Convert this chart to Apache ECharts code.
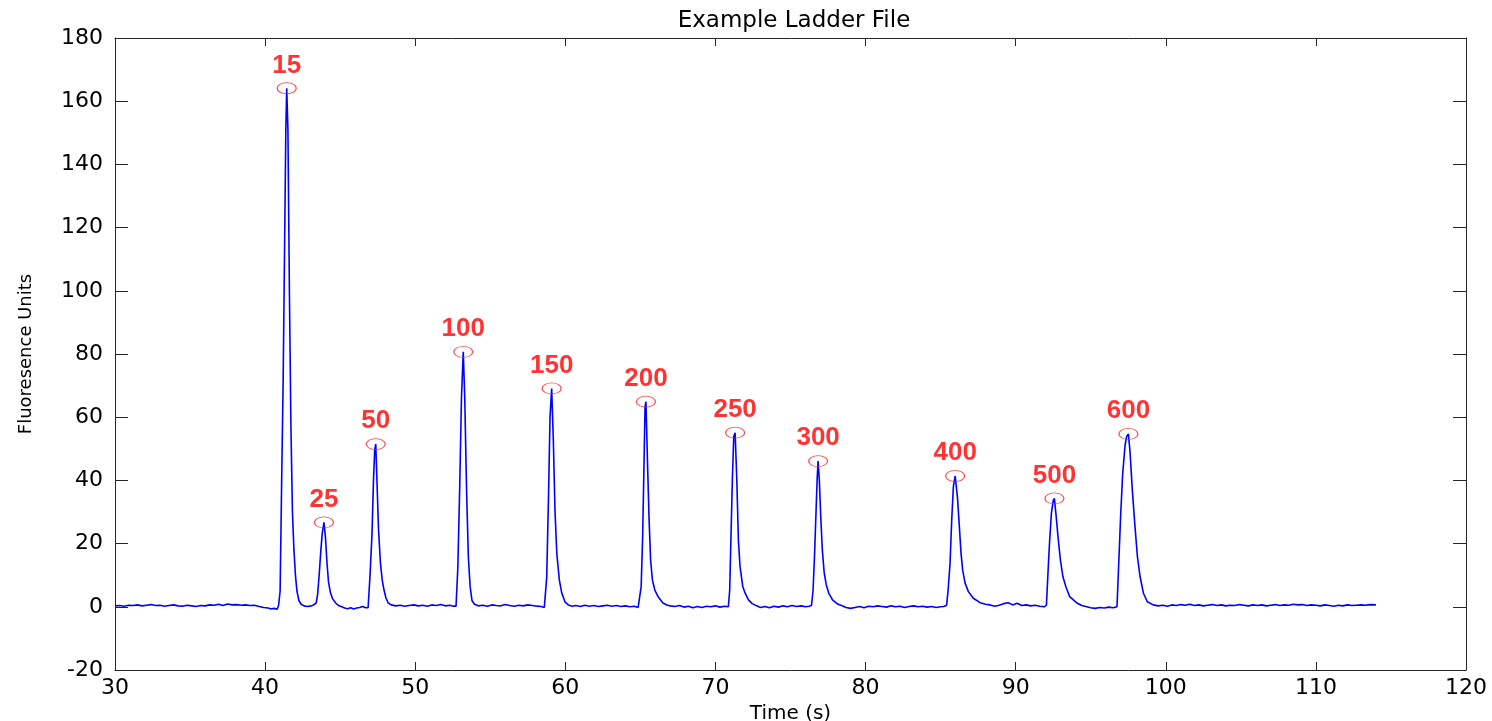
<!DOCTYPE html>
<html>
<head>
<meta charset="utf-8">
<script src="https://cdn.jsdelivr.net/npm/echarts@6/dist/echarts.min.js"></script>
<style>
  html, body { margin: 0; padding: 0; background: #ffffff; }
  #chart { width: 1492px; height: 721px; }
</style>
</head>
<body>
<div id="chart"></div>
<script>
// ---- Data ----
var chartTitle = 'Example Ladder File';
var xAxisName = 'Time (s)';
var yAxisName = 'Fluoresence Units';

var xTicks = { min: 30, max: 120, interval: 10 };
var yTicks = { min: -20, max: 180, interval: 20 };

// Trace: time (s)
var traceTime = [
  30.0, 30.3, 30.6, 30.9, 31.2, 31.5, 31.8, 32.1, 32.4, 32.7, 33.0, 33.3, 33.6, 33.9, 34.2, 34.5, 34.8, 35.1, 35.4, 35.7,
  36.0, 36.3, 36.6, 36.9, 37.2, 37.5, 37.8, 38.1, 38.4, 38.7, 39.0, 39.3, 39.6, 39.9, 40.2, 40.4, 40.6, 40.8,
  40.9, 41.0, 41.1, 41.2, 41.3, 41.38, 41.44, 41.52, 41.62, 41.72, 41.82, 41.92, 42.02, 42.12, 42.25, 42.4, 42.6, 42.8, 43.0, 43.2,
  43.4, 43.5, 43.6, 43.7, 43.8, 43.92, 44.02, 44.12, 44.22, 44.35, 44.5, 44.7, 44.9, 45.1, 45.3, 45.5, 45.7, 45.9, 46.1, 46.3, 46.5, 46.7, 46.86,
  46.99, 47.12, 47.22, 47.3, 47.37, 47.45, 47.55, 47.68, 47.8, 47.92, 48.05, 48.2, 48.4, 48.7, 49.0, 49.3, 49.6, 49.9, 50.2, 50.5, 50.8,
  51.1, 51.4, 51.7, 52.0, 52.3, 52.55, 52.72,
  52.84, 52.96, 53.08, 53.2, 53.3, 53.42, 53.54, 53.66, 53.78, 53.95, 54.2, 54.5, 54.8, 55.1, 55.4, 55.7, 56.0, 56.3, 56.6, 56.9,
  57.2, 57.5, 57.8, 58.1, 58.4, 58.6, 58.68,
  58.76, 58.88, 58.98, 59.09, 59.2, 59.31, 59.43, 59.6, 59.76, 59.98, 60.2, 60.45, 60.7, 61.0, 61.3, 61.6, 61.9, 62.2, 62.5, 62.8,
  63.1, 63.4, 63.7, 64.0, 64.3, 64.6, 64.85, 64.98,
  65.05, 65.15, 65.24, 65.31, 65.37, 65.47, 65.58, 65.68, 65.8, 65.96, 66.18, 66.5, 66.8, 67.0, 67.3, 67.6, 67.9, 68.2, 68.5, 68.8,
  69.1, 69.4, 69.7, 70.0, 70.3, 70.6, 70.86,
  70.95, 71.04, 71.13, 71.22, 71.31, 71.42, 71.53, 71.64, 71.82, 71.97, 72.2, 72.45, 72.75, 73.0, 73.3, 73.6, 73.9, 74.2, 74.5, 74.8,
  75.1, 75.4, 75.7, 76.0, 76.25, 76.4,
  76.5, 76.6, 76.7, 76.78, 76.84, 76.92, 77.02, 77.12, 77.24, 77.38, 77.56, 77.8, 78.1, 78.4, 78.7, 79.0, 79.3, 79.6, 79.9, 80.2,
  80.5, 80.8, 81.1, 81.4, 81.7, 82.0, 82.3, 82.6, 82.9, 83.2, 83.5, 83.8, 84.1, 84.4, 84.7, 85.0, 85.2, 85.4,
  85.5, 85.63, 85.74, 85.85, 85.97, 86.12, 86.25, 86.36, 86.47, 86.63, 86.85, 87.18, 87.63, 88.0, 88.3, 88.6, 88.9, 89.2, 89.5, 89.8,
  90.1, 90.4, 90.7, 91.0, 91.3, 91.6, 91.9, 92.05,
  92.12, 92.24, 92.38, 92.5, 92.58, 92.7, 92.82, 92.98, 93.15, 93.34, 93.6, 94.05, 94.4, 94.74, 95.0, 95.3, 95.6, 95.9, 96.2, 96.5, 96.75,
  96.86, 97.0, 97.13, 97.29, 97.4, 97.51, 97.62, 97.77, 97.95, 98.11, 98.29, 98.51, 98.77, 99.17, 99.5, 99.8,
  100.1, 100.4, 100.7, 101.0, 101.3, 101.6, 101.9, 102.2, 102.5, 102.8, 103.1, 103.4, 103.7, 104.0, 104.3, 104.6, 104.9, 105.2, 105.5, 105.8,
  106.1, 106.4, 106.7, 107.0, 107.3, 107.6, 107.9, 108.2, 108.5, 108.8, 109.1, 109.4, 109.7, 110.0, 110.3, 110.6, 110.9, 111.2, 111.5, 111.8,
  112.1, 112.4, 112.7, 113.0, 113.3, 113.6, 114.0
];

// Trace: fluorescence units
var traceSignal = [
  0.3, 0.4, 0.2, 0.5, 0.4, 0.6, 0.3, 0.5, 0.7, 0.4, 0.5, 0.2, 0.4, 0.6, 0.3, 0.2, 0.5, 0.3, 0.1, 0.4,
  0.3, 0.6, 0.5, 0.8, 0.4, 0.9, 0.6, 0.7, 0.5, 0.6, 0.4, 0.5, 0.1, -0.2, -0.4, -0.7, -0.5, -0.8,
  0.5, 5, 39, 71, 115, 151, 164.1, 151, 99, 57, 30, 18, 10, 5, 2, 0.8, 0.3, 0.1, 0.2, 0.5,
  1.2, 4, 10, 17, 23, 26.7, 22, 14, 8, 4.5, 2.5, 1.2, 0.4, 0, -0.4, -0.6, -0.3, -0.7, -0.4, -0.2, 0.1, -0.3, -0.3,
  10, 23, 40, 49.6, 51.5, 40, 25, 14, 8.5, 5.3, 2.8, 1.2, 0.6, 0.3, 0.5, 0.2, 0.4, 0.6, 0.3, 0.5, 0.2,
  0.6, 0.4, 0.7, 0.3, 0.5, 0.2, 0.2,
  12.6, 37, 66, 80.7, 66, 37, 15.7, 6.3, 2, 0.8, 0.3, 0.5, 0.2, 0.6, 0.4, 0.3, 0.7, 0.4, 0.2, 0.5,
  0.3, 0.6, 0.4, 0.2, 0.1, -0.2, 0,
  9.4, 35, 60, 69.1, 52.8, 30.6, 17, 8.5, 4.4, 1.5, 0.6, 0.2, 0.4, 0.1, 0.5, 0.2, 0.4, 0.1, 0.3, 0.5,
  0.2, 0.4, 0.1, 0.3, 0.0, 0.2, -0.2, -0.2,
  6.3, 22, 44.9, 63.3, 64.9, 46.5, 27.5, 14.8, 8.5, 5.3, 3.2, 1.2, 0.5, 0.3, 0.1, 0.4, -0.1, 0.2, -0.3, 0.1,
  -0.2, 0.2, 0.0, 0.3, -0.1, 0.2, 0,
  5.3, 23.3, 40.7, 53.8, 55.1, 40.7, 21, 12.7, 6.4, 4.4, 2.2, 1.0, 0.3, -0.2, 0.1, -0.3, 0.2, -0.1, 0.3, 0.0,
  0.4, 0.1, 0.3, 0.0, 0.2, 0.5,
  5, 16, 30, 41, 46.1, 40, 28, 18, 11, 7, 4.2, 2.2, 1, 0.4, -0.2, -0.5, -0.2, 0.1, -0.3, 0.2,
  0.0, 0.3, 0.1, -0.1, 0.3, 0.0, 0.2, -0.2, 0.1, 0.3, 0.0, 0.2, -0.1, 0.1, -0.2, 0.0, 0.1, 0.5,
  5.3, 13.9, 27.5, 38, 41.4, 34.8, 25.3, 17, 11.6, 7.5, 4.8, 2.7, 1.3, 0.8, 0.6, 0.2, 0.5, 1.0, 1.3, 0.6,
  1.1, 0.4, 0.6, 0.3, 0.5, 0.2, 0.0, 0.5,
  7.5, 19, 29.6, 33.5, 34.3, 28.5, 22.2, 14.8, 9.5, 6.4, 3.2, 1.3, 0.4, 0, -0.3, -0.5, -0.2, -0.4, -0.1, -0.3, 0,
  13, 29.6, 42.2, 51.2, 54, 54.7, 49, 37, 25.3, 15.9, 9.5, 4.3, 1.6, 0.6, 0.3, 0.5,
  0.2, 0.6, 0.4, 0.7, 0.5, 0.8, 0.4, 0.6, 0.3, 0.5, 0.7, 0.4, 0.6, 0.3, 0.5, 0.4, 0.7, 0.5, 0.3, 0.6,
  0.4, 0.6, 0.3, 0.5, 0.7, 0.4, 0.6, 0.5, 0.8, 0.6, 0.7, 0.4, 0.6, 0.5, 0.3, 0.6, 0.4, 0.2, 0.5, 0.3,
  0.6, 0.4, 0.5, 0.6, 0.5, 0.7, 0.6
];

// Called ladder peaks
var peakTime   = [41.44, 43.92, 47.37, 53.2, 59.09, 65.37, 71.31, 76.84, 85.97, 92.58, 97.51];
var peakHeight = [164.1, 26.7, 51.5, 80.7, 69.1, 64.9, 55.1, 46.1, 41.4, 34.3, 54.7];
var peakLabel  = ['15', '25', '50', '100', '150', '200', '250', '300', '400', '500', '600'];

// ---- Build ----
var traceData = traceTime.map(function (t, i) { return [t, traceSignal[i]]; });
var peakData = peakTime.map(function (t, i) { return { value: [t, peakHeight[i]], name: peakLabel[i] }; });

var axisColor = '#262626';
var tickFont = { color: '#000000', fontSize: 22, fontFamily: 'DejaVu Sans' };

function xAx(pos, showLabel) {
  return {
    type: 'value', position: pos,
    min: xTicks.min, max: xTicks.max, interval: xTicks.interval,
    name: showLabel ? xAxisName : '',
    nameLocation: 'middle', nameGap: 27,
    nameTextStyle: { color: '#000000', fontSize: 20, fontFamily: 'DejaVu Sans', lineHeight: 20 },
    axisLine: { show: true, onZero: false, lineStyle: { color: axisColor, width: 1 } },
    axisTick: { show: true, inside: true, length: 8, lineStyle: { color: axisColor, width: 1 } },
    axisLabel: Object.assign({ show: showLabel, margin: 7 }, tickFont),
    splitLine: { show: false }
  };
}
function yAx(pos, showLabel) {
  return {
    type: 'value', position: pos,
    min: yTicks.min, max: yTicks.max, interval: yTicks.interval,
    name: showLabel ? yAxisName : '',
    nameLocation: 'middle', nameGap: 80, nameRotate: 90,
    nameTextStyle: { color: '#000000', fontSize: 18, fontFamily: 'DejaVu Sans' },
    axisLine: { show: true, onZero: false, lineStyle: { color: axisColor, width: 1 } },
    axisTick: { show: true, inside: true, length: 13, lineStyle: { color: axisColor, width: 1 } },
    axisLabel: Object.assign({ show: showLabel, margin: 12 }, tickFont),
    splitLine: { show: false }
  };
}

var chart = echarts.init(document.getElementById('chart'), null, { renderer: 'canvas' });
chart.setOption({
  animation: false,
  backgroundColor: '#ffffff',
  title: {
    text: chartTitle,
    left: 789, top: 5, textAlign: 'center',
    textStyle: { color: '#000000', fontSize: 23, fontWeight: 'normal', fontFamily: 'DejaVu Sans' }
  },
  grid: { left: 115, right: 26, top: 38, bottom: 51, containLabel: false, outerBoundsMode: 'none' },
  xAxis: [xAx('bottom', true), xAx('top', false)],
  yAxis: [yAx('left', true), yAx('right', false)],
  series: [
    {
      type: 'line',
      data: traceData,
      xAxisIndex: 0, yAxisIndex: 0,
      showSymbol: false,
      smooth: false,
      lineStyle: { color: '#0000ff', width: 1.6 },
      z: 2
    },
    {
      type: 'scatter',
      data: peakData,
      xAxisIndex: 0, yAxisIndex: 0,
      symbol: 'circle',
      symbolSize: [19, 11],
      itemStyle: { color: 'rgba(255,255,255,0)', borderColor: '#ff2020', borderWidth: 1 },
      label: {
        show: true, position: 'top', distance: 4,
        formatter: function (p) { return p.name; },
        color: '#ff0000', fontSize: 26, fontWeight: 'bold', fontFamily: 'Liberation Sans'
      },
      z: 3
    }
  ]
});
</script>
</body>
</html>
